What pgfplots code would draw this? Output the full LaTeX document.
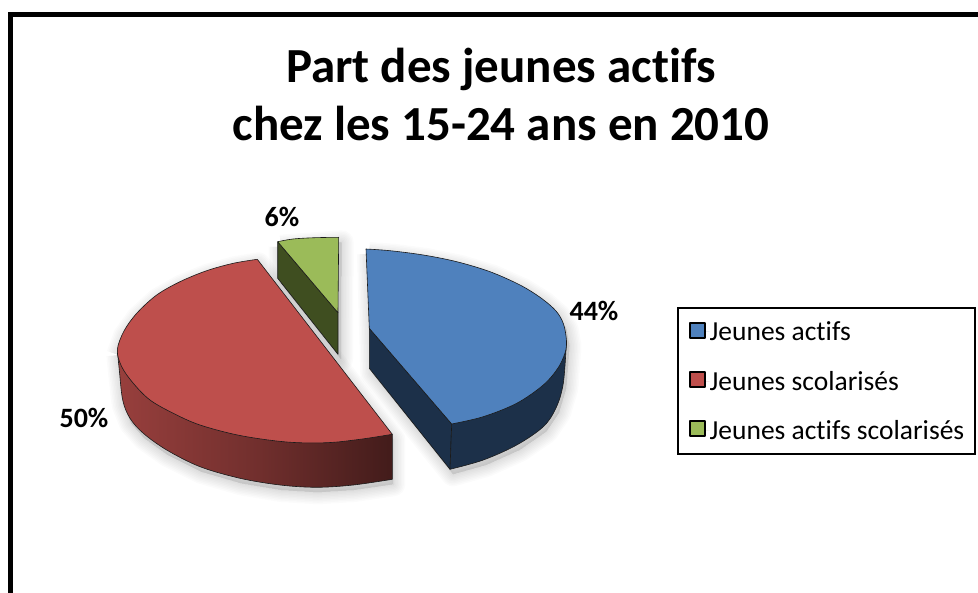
\documentclass[border=0pt]{standalone}
\usepackage{pgfplots}
\usepackage{pgfplotstable}
\usepackage{fontspec}
\setmainfont[Ligatures=NoCommon]{Carlito}
\pgfplotsset{compat=1.18}
\definecolor{cblue}{HTML}{4F81BD}
\definecolor{cred}{HTML}{BE4F4C}
\definecolor{cgreen}{HTML}{9BBB59}
\definecolor{dblue}{HTML}{1C3049}
\definecolor{dgreen}{HTML}{3F4E20}
\definecolor{edge}{HTML}{1A1A1A}
\pgfplotstableread{
x y
257.3 259.3
233.3 263.3
206.7 270.7
180 281.7
156.7 295
137 313
124 331
117.3 350
121.7 366.7
133.3 383.3
150 400
173.3 413.3
200 425
240 435.5
286.7 442
326.7 442.7
360 439.3
392.3 434.3
}\redtop
\pgfplotstableread{
x y
117.3 350
119.3 370
122.7 400
130 418.3
143.3 433.3
166.7 450
200 466.7
240 478.3
280 485
316.7 487.3
353.3 485
392.3 479.3
}\redside
\pgfplotstableread{
x y
117.3 350
119.3 370
122.7 400
130 418.3
143.3 433.3
166.7 450
200 466.7
240 478.3
280 485
316.7 487.3
353.3 485
392.3 479.3
392.3 434.3
257.3 259.3
233.3 263.3
206.7 270.7
180 281.7
156.7 295
137 313
124 331
117.3 350
}\redall
\pgfplotstableread{
x y
366 249
390 250.7
423.3 255
456.7 261.7
490 271.7
520 285
541 298
556 311
563.5 324
566.5 341
565 353
558 368
543.3 385
516.7 403.3
483.3 416.7
451.7 424
}\bluetop
\pgfplotstableread{
x y
369.3 328.3
451.7 424
450 469.3
369.3 368.3
369.3 328.3
}\blueinner
\pgfplotstableread{
x y
566.5 341
563.3 383.3
556 408
543.3 426.7
516.7 445
483.3 460
450 469.3
}\blueouter
\pgfplotstableread{
x y
366 249
390 250.7
423.3 255
456.7 261.7
490 271.7
520 285
541 298
556 311
563.5 324
566.5 341
563.3 383.3
556 408
543.3 426.7
516.7 445
483.3 460
450 469.3
369.3 368.3
366 249
}\blueall
\pgfplotstableread{
x y
277.7 241.7
293 239
315 237.7
338.7 237.3
}\greentop
\pgfplotstableread{
x y
277.7 241.7
338 312.7
338 354.3
277.7 278.3
277.7 241.7
}\greenside
\pgfplotstableread{
x y
277.7 241.7
338.7 237.3
338 354.3
277.7 278.3
277.7 241.7
}\greenall
\begin{document}
\begin{tikzpicture}
\begin{axis}[
  scale only axis, width=978pt, height=593pt,
  xmin=0, xmax=978, ymin=0, ymax=593, y dir=reverse,
  hide axis, clip=true,
  legend cell align=left,
  legend image code/.code={\path[draw=none] (0pt,0pt) -- (20pt,0pt);\draw[#1,draw=black,line width=2pt] (0pt,-6pt) rectangle (15pt,9pt);},
  legend style={at={(0.6918,0.4828)}, anchor=north west, draw=black, line width=2.2pt,
    font=\fontsize{27.5}{30}\selectfont, fill=white,
    inner xsep=11pt, inner ysep=12.5pt, row sep=26.3pt,
    nodes={inner sep=0pt, text height=20.5pt, text depth=2.5pt}},
]
\path (axis cs:0,0) -- (axis cs:978,593);
% frame
\addplot[forget plot, draw=black, line width=5pt, line cap=butt] coordinates {(10.5,593) (10.5,14.5) (978,14.5)};
% shadows
\pgfplotsinvokeforeach{3,6,9,12,15,18,21,24}{
  \addplot[forget plot, draw=black, fill=black, opacity=0.014, line width=#1pt, line join=round]
    table[x expr=\thisrow{x}+1, y expr=\thisrow{y}+5] {\redall};
  \addplot[forget plot, draw=black, fill=black, opacity=0.014, line width=#1pt, line join=round]
    table[x expr=\thisrow{x}+3, y expr=\thisrow{y}+5] {\blueall};
  \addplot[forget plot, draw=black, fill=black, opacity=0.014, line width=#1pt, line join=round]
    table[x expr=\thisrow{x}+3, y expr=\thisrow{y}+5] {\greenall};
}
% sides
\addplot[forget plot, smooth, tension=0.55, draw=edge, line width=0.6pt, left color=cred!80!black, right color=cred!35!black, middle color=cred!60!black, line join=round] table {\redside} -- (axis cs:392.3,434.3) -- cycle;
\addplot[forget plot, draw=edge, line width=0.6pt, fill=dblue, line join=round] table {\blueinner};
\addplot[forget plot, smooth, tension=0.55, draw=edge, line width=0.6pt, fill=dblue, line join=round] table {\blueouter} -- (axis cs:451.7,424) -- cycle;
\addplot[forget plot, draw=edge, line width=0.6pt, fill=dgreen, line join=round] table {\greenside};
% tops (legend entries)
\addplot[smooth, tension=0.55, draw=edge, line width=0.6pt, fill=cblue, line join=round] table {\bluetop} -- (axis cs:369.3,328.3) -- cycle;
\addlegendentry{Jeunes actifs}
\addplot[smooth, tension=0.55, draw=edge, line width=0.6pt, fill=cred, line join=round] table {\redtop} -- cycle;
\addlegendentry{Jeunes scolarisés}
\addplot[smooth, tension=0.55, draw=edge, line width=0.6pt, fill=cgreen, line join=round] table {\greentop} -- (axis cs:338,312.7) -- cycle;
\addlegendentry{Jeunes actifs scolarisés}
% texts
\node[align=center, font=\bfseries\fontsize{49}{58}\selectfont, anchor=center] at (axis cs:501,94.5) {Part des jeunes actifs\\chez les 15-24 ans en 2010};
\node[font=\bfseries\fontsize{28}{30}\selectfont] at (axis cs:594,311) {44\%};
\node[font=\bfseries\fontsize{28}{30}\selectfont] at (axis cs:84,418) {50\%};
\node[font=\bfseries\fontsize{28}{30}\selectfont] at (axis cs:282,217) {6\%};
\end{axis}
\end{tikzpicture}
\end{document}
